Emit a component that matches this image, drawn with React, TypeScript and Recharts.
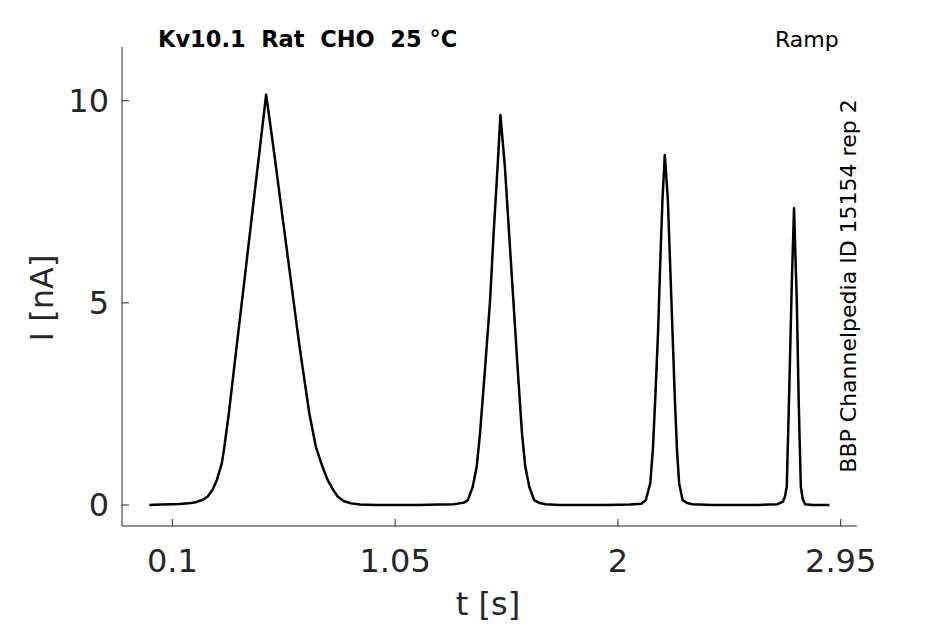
import React from "react";
import { LineChart, Line, XAxis, YAxis } from "recharts";

// Kv10.1 ramp response
const timeS = [
  0.002, 0.05, 0.1, 0.13, 0.17, 0.201, 0.23, 0.251, 0.272, 0.29, 0.311, 0.322, 0.341, 0.372, 0.408, 0.443, 0.475, 0.5,
  0.531, 0.567, 0.604, 0.641, 0.684, 0.712, 0.74, 0.762, 0.785, 0.805, 0.83, 0.862, 0.9, 0.969,
  1.05, 1.15, 1.238, 1.3, 1.324, 1.345, 1.36, 1.381, 1.398, 1.412, 1.434, 1.455, 1.47, 1.487, 1.499,
  1.518, 1.536, 1.554, 1.572, 1.591, 1.605, 1.622, 1.643, 1.665, 1.693, 1.75, 1.85, 1.95, 2.05, 2.1,
  2.119, 2.138, 2.149, 2.159, 2.171, 2.18, 2.19, 2.2, 2.213, 2.223, 2.233, 2.243, 2.252, 2.261, 2.276, 2.295, 2.318,
  2.4, 2.5, 2.6, 2.68, 2.703, 2.712, 2.72, 2.731, 2.741, 2.751, 2.763, 2.771, 2.78, 2.788, 2.798, 2.83, 2.87, 2.902,
];

const currentNA = [
  0, 0.01, 0.02, 0.025, 0.04, 0.07, 0.13, 0.21, 0.38, 0.62, 1.03, 1.44, 2.27, 3.81, 5.59, 7.33, 8.91, 10.15,
  8.85, 7.25, 5.62, 3.98, 2.27, 1.44, 0.95, 0.62, 0.38, 0.21, 0.1, 0.04, 0.01, 0,
  0, 0, 0.01, 0.02, 0.04, 0.06, 0.12, 0.45, 0.95, 1.77, 3.42, 5.07, 6.72, 8.37, 9.65,
  8.37, 6.72, 5.07, 3.42, 1.77, 0.95, 0.45, 0.12, 0.05, 0.02, 0, 0, 0, 0.01, 0.03,
  0.12, 0.54, 1.36, 2.6, 4.25, 5.9, 7.55, 8.66, 7.55, 5.9, 4.25, 2.6, 1.36, 0.54, 0.12, 0.05, 0.02,
  0, 0, 0, 0.02, 0.08, 0.2, 0.45, 2.93, 5.4, 7.34, 5.0, 2.52, 0.45, 0.15, 0.02, 0, 0, 0,
];

const xTicks = [0.1, 1.05, 2, 2.95];
const yTicks = [0, 5, 10];

const FONT = "DejaVu Sans";
const AXIS = "#262626";

const data = timeS.map((t, i) => ({ t, current: currentNA[i] }));

export default function App() {
  return (
    <div style={{ position: "absolute", left: 0, top: 0, width: 945, height: 624, background: "#fff" }}>
      <LineChart
        width={945}
        height={624}
        data={data}
        margin={{ top: 47, right: 88, bottom: 58, left: 62 }}
      >
        <XAxis
          type="number"
          dataKey="t"
          domain={[-0.1146, 3.0195]}
          ticks={xTicks}
          interval={0}
          allowDataOverflow
          height={40}
          tickSize={-7}
          tickMargin={30}
          axisLine={{ stroke: AXIS }}
          tickLine={{ stroke: AXIS }}
          tick={{ fill: AXIS, fontSize: 32, fontFamily: FONT }}
        />
        <YAxis
          type="number"
          domain={[-0.52, 11.33]}
          ticks={yTicks}
          interval={0}
          allowDataOverflow
          width={60}
          tickSize={-7}
          tickMargin={20}
          axisLine={{ stroke: AXIS }}
          tickLine={{ stroke: AXIS }}
          tick={{ fill: AXIS, fontSize: 32, fontFamily: FONT }}
        />
        <Line
          type="linear"
          dataKey="current"
          stroke="#000"
          strokeWidth={2.5}
          strokeLinejoin="round"
          dot={false}
          isAnimationActive={false}
        />
        <text x={488} y={604} textAnchor="middle" dominantBaseline="central" fontSize={32} fontFamily={FONT} fill={AXIS}>
          t [s]
        </text>
        <text
          x={42}
          y={298}
          transform="rotate(-90, 42, 298)"
          textAnchor="middle"
          dominantBaseline="central"
          fontSize={32}
          fontFamily={FONT}
          fill={AXIS}
        >
          I [nA]
        </text>
        <text x={158} y={47} fontSize={22.5} fontWeight="bold" fontFamily={FONT} fill="#000" style={{ whiteSpace: "pre" }}>
          {"Kv10.1  Rat  CHO  25 °C"}
        </text>
        <text x={775} y={47} fontSize={22} fontFamily={FONT} fill="#000">
          Ramp
        </text>
        <text
          x={856}
          y={286}
          transform="rotate(-90, 856, 286)"
          textAnchor="middle"
          fontSize={22}
          fontFamily={FONT}
          fill="#000"
        >
          BBP Channelpedia ID 15154 rep 2
        </text>
      </LineChart>
    </div>
  );
}
